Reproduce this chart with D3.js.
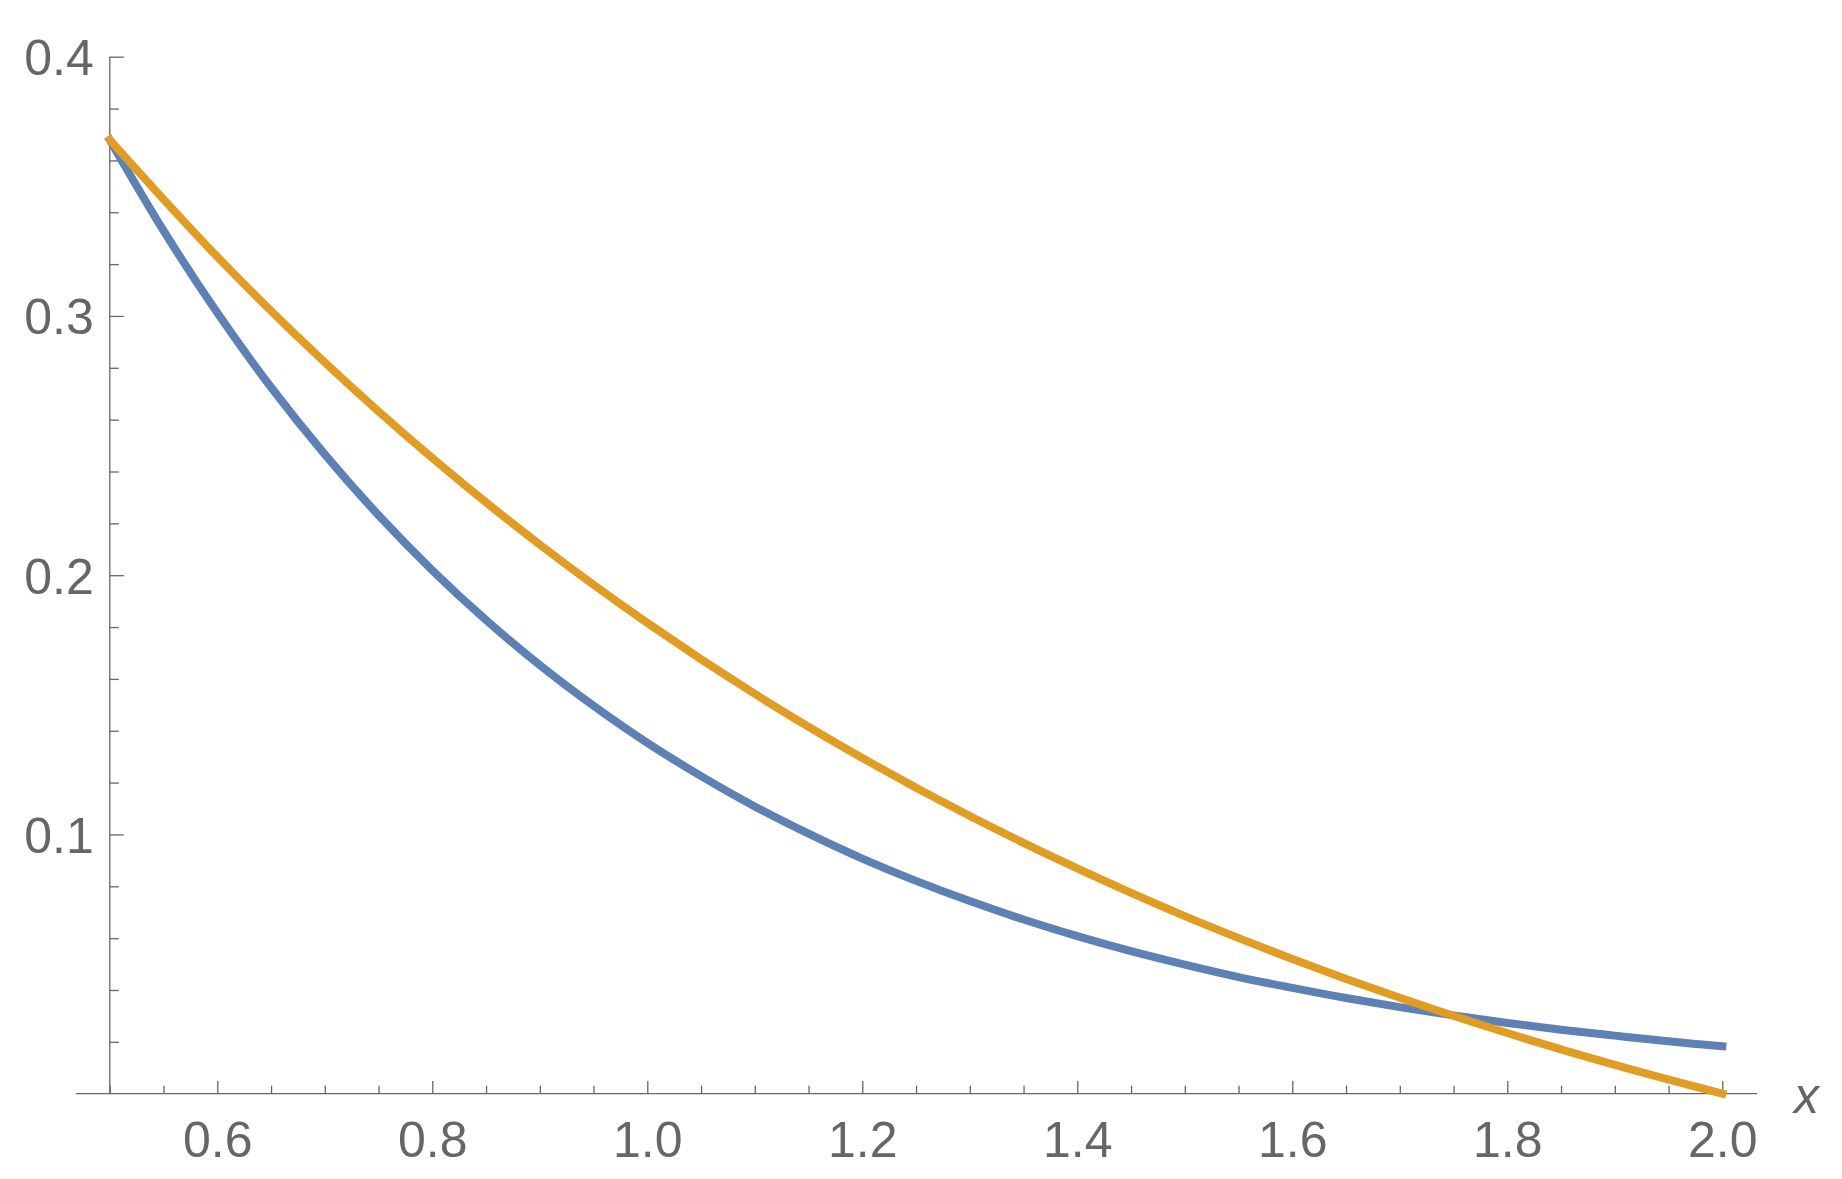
<!DOCTYPE html>
<html>
<head>
<meta charset="utf-8">
<script src="https://cdn.jsdelivr.net/npm/d3@7"></script>
<style>
  html, body { margin: 0; padding: 0; background: #ffffff; }
  svg { display: block; }
</style>
</head>
<body>
<script>
// ---- data ----
const blueX = [0.5,0.55,0.6,0.65,0.7,0.75,0.8,0.85,0.9,0.95,1.0,1.05,1.1,1.15,1.2,1.25,1.3,1.35,1.4,1.45,1.5,1.55,1.6,1.65,1.7,1.75,1.8,1.85,1.9,1.95,2.0];
const blueY = [0.3679,0.3329,0.3012,0.2725,0.2466,0.2231,0.2019,0.1827,0.1653,0.1496,0.1353,0.1225,0.1108,0.1003,0.0907,0.0821,0.0743,0.0672,0.0608,0.0550,0.0498,0.0450,0.0408,0.0369,0.0334,0.0302,0.0273,0.0247,0.0224,0.0202,0.0183];
const orangeX = [0.5,0.6,0.7,0.8,0.9,1.0,1.1,1.2,1.3,1.4,1.5,1.6,1.7,1.8,1.9,2.0];
const orangeY = [0.3679,0.3228,0.2821,0.2452,0.2118,0.1816,0.1542,0.1295,0.1071,0.0869,0.0685,0.0520,0.0370,0.0234,0.0111,0.0];
const xMajorTicks = [0.6,0.8,1.0,1.2,1.4,1.6,1.8,2.0];
const xMinorTicks = [0.5,0.55,0.65,0.7,0.75,0.85,0.9,0.95,1.05,1.1,1.15,1.25,1.3,1.35,1.45,1.5,1.55,1.65,1.7,1.75,1.85,1.9,1.95];
const yMajorTicks = [0.1,0.2,0.3,0.4];
const yMinorTicks = [0.02,0.04,0.06,0.08,0.12,0.14,0.16,0.18,0.22,0.24,0.26,0.28,0.32,0.34,0.36,0.38];
const xAxisExtent = [0.4685, 2.0322];
const axisLabel = "x";

// ---- layout ----
const W = 1842, H = 1179;
const AX = "#666666";
const FONT = "'Liberation Sans', Arial, Helvetica, sans-serif";

const svg = d3.select("body").append("svg").attr("width", W).attr("height", H);
svg.append("rect").attr("width", W).attr("height", H).attr("fill", "#fff");

const x = d3.scaleLinear().domain([0.5, 2.0]).range([109.8, 1722.3]);
const y = d3.scaleLinear().domain([0, 0.4]).range([1093.7, 56.7]);

const fmt = d3.format(".1f");

// x axis
const gx = svg.append("g").attr("transform", `translate(0,${y(0)})`);
gx.append("line")
  .attr("x1", x(xAxisExtent[0])).attr("x2", x(xAxisExtent[1]))
  .attr("y1", 0).attr("y2", 0)
  .attr("stroke", AX).attr("stroke-width", 1.3);
const xMinor = gx.append("g").call(d3.axisBottom(x).tickValues(xMinorTicks).tickSize(-8).tickSizeOuter(0).tickFormat(""));
const xMajor = gx.append("g").call(d3.axisBottom(x).tickValues(xMajorTicks).tickSize(-12.7).tickSizeOuter(0).tickPadding(28).tickFormat(fmt));
[xMinor, xMajor].forEach(g => {
  g.select(".domain").remove();
  g.selectAll(".tick line").attr("stroke", AX).attr("stroke-width", 1.3);
});
xMajor.selectAll("text").attr("fill", AX).style("font-family", FONT).style("font-size", "50px");

// y axis
const gy = svg.append("g").attr("transform", `translate(${x(0.5)},0)`);
gy.append("line")
  .attr("x1", 0).attr("x2", 0)
  .attr("y1", y(0)).attr("y2", y(0.4))
  .attr("stroke", AX).attr("stroke-width", 1.3);
const yMinor = gy.append("g").call(d3.axisLeft(y).tickValues(yMinorTicks).tickSize(-9).tickSizeOuter(0).tickFormat(""));
const yMajor = gy.append("g").call(d3.axisLeft(y).tickValues(yMajorTicks).tickSize(-14).tickSizeOuter(0).tickPadding(16).tickFormat(fmt));
[yMinor, yMajor].forEach(g => {
  g.select(".domain").remove();
  g.selectAll(".tick line").attr("stroke", AX).attr("stroke-width", 1.3);
});
yMajor.selectAll("text").attr("fill", AX).attr("dy", "0.36em").style("font-family", FONT).style("font-size", "50px");

// axis label
svg.append("text")
  .attr("x", x(xAxisExtent[1]) + 37).attr("y", y(0) + 19)
  .attr("fill", AX)
  .style("font-family", FONT).style("font-size", "50px").style("font-style", "italic")
  .text(axisLabel);

// curves
const line = d3.line().x(d => x(d[0])).y(d => y(d[1])).curve(d3.curveCatmullRom.alpha(0.5));
const blue = blueX.map((v, i) => [v, blueY[i]]);
const orange = orangeX.map((v, i) => [v, orangeY[i]]);

svg.append("path").datum(blue).attr("d", line)
  .attr("fill", "none").attr("stroke", "#5E81B5").attr("stroke-width", 8).attr("stroke-linecap", "square");
svg.append("path").datum(orange).attr("d", line)
  .attr("fill", "none").attr("stroke", "#E19C24").attr("stroke-width", 8).attr("stroke-linecap", "square");
</script>
</body>
</html>
